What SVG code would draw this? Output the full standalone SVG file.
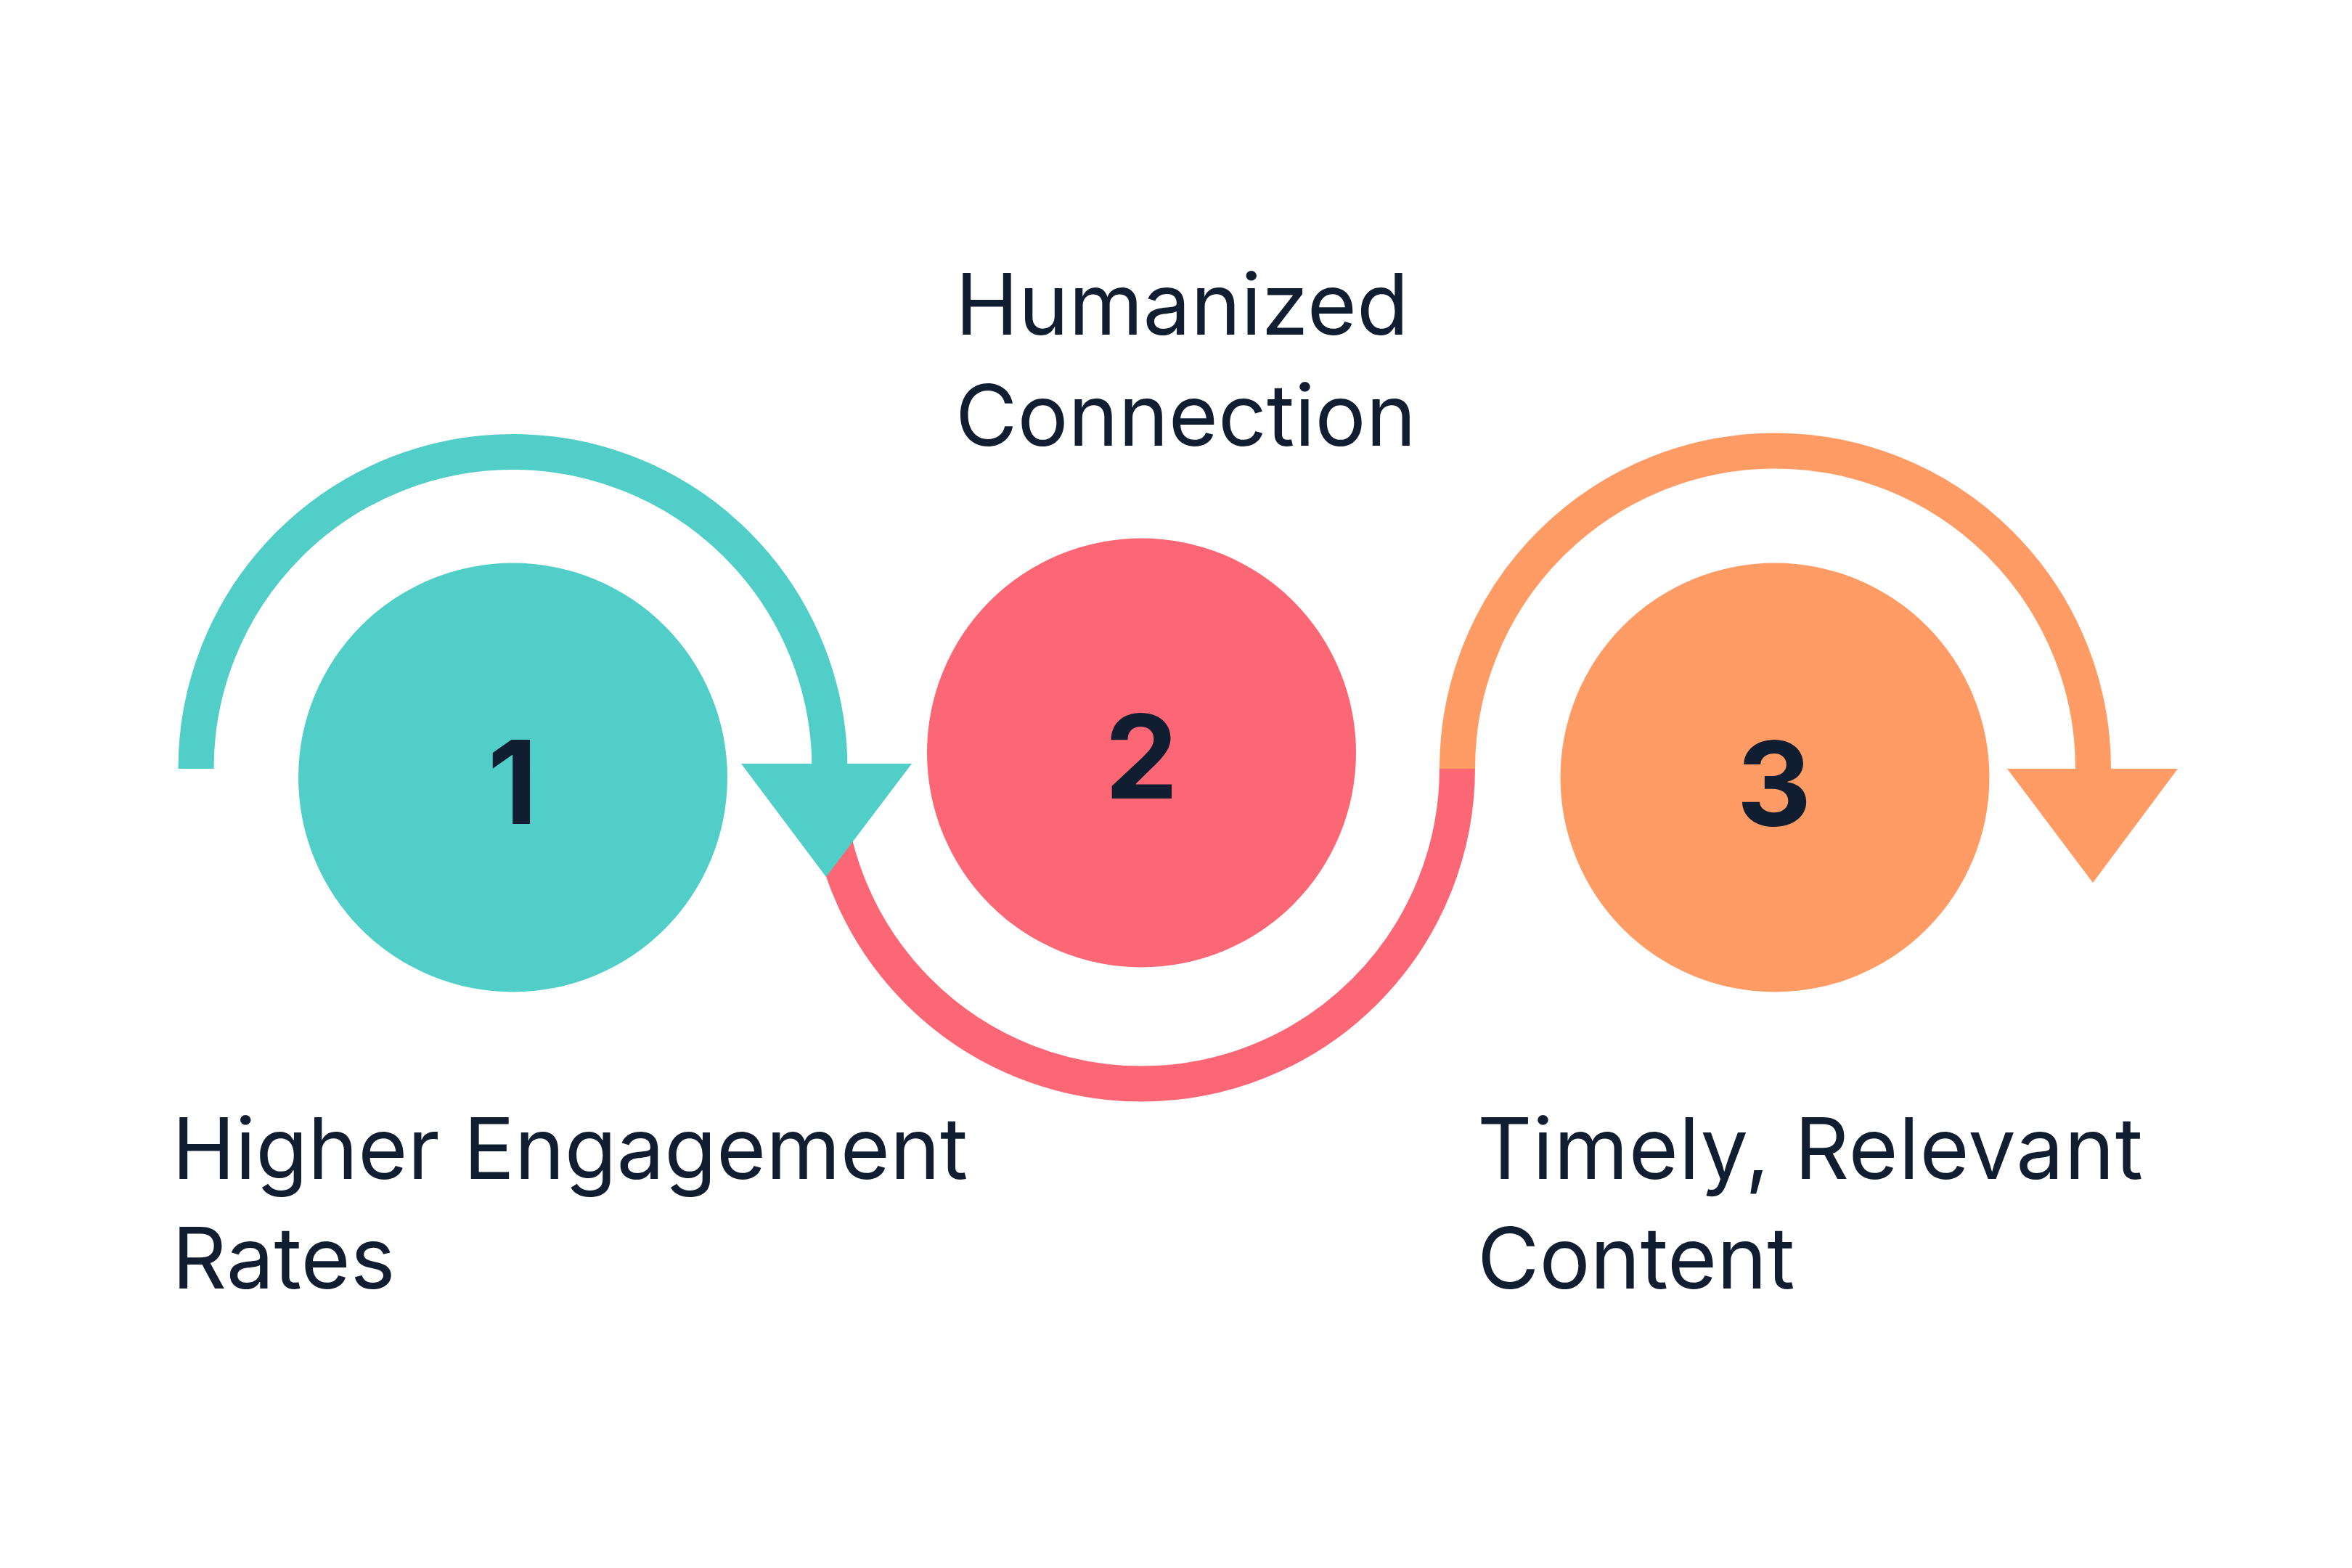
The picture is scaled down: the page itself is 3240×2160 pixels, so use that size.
<svg xmlns="http://www.w3.org/2000/svg" width="3240" height="2160" viewBox="0 0 3240 2160">
  <style>
    .label { font-family: Inter, "Liberation Sans", sans-serif; font-size: 117px; fill: #111D30; }
    .num { font-family: Inter, "Liberation Sans", sans-serif; font-size: 160px; font-weight: 700; fill: #111D30; text-anchor: middle; }
    .arc { fill: none; stroke-width: 49; stroke-linecap: butt; }
    .teal { fill: #52CEC8; }
    .pink { fill: #FC6776; }
    .orange { fill: #FF9B65; }
  </style>
  <rect width="3240" height="2160" fill="#FFFFFF"/>

  <!-- connectors: arcs around each step, with arrowheads -->
  <g id="connectors">
    <path id="arc-2" class="arc" stroke="#FC6776" d="M 1137.5 1058 A 435 435 0 0 0 2007.5 1058"/>
    <path id="arc-1" class="arc" stroke="#52CEC8" d="M 270 1059 A 436.5 436.5 0 0 1 1143 1059 L 1143 1070"/>
    <polygon class="teal" points="1021,1052 1256,1052 1138,1208"/>
    <path id="arc-3" class="arc" stroke="#FF9B65" d="M 2007.5 1059 A 438 438 0 0 1 2883.5 1059 L 2883.5 1070"/>
    <polygon class="orange" points="2765,1059 3000,1059 2883,1216"/>
  </g>

  <!-- step 1 -->
  <g id="step-1">
    <circle class="teal" cx="706.5" cy="1071" r="295.5"/>
    <text class="num" x="706" y="1135">1</text>
    <text class="label" x="237" y="1624">Higher Engagement</text>
    <text class="label" x="237" y="1775">Rates</text>
  </g>

  <!-- step 2 -->
  <g id="step-2">
    <circle class="pink" cx="1572.5" cy="1037" r="295.5"/>
    <text class="num" x="1572.5" y="1100">2</text>
    <text class="label" x="1316" y="461">Humanized</text>
    <text class="label" x="1316" y="614">Connection</text>
  </g>

  <!-- step 3 -->
  <g id="step-3">
    <circle class="orange" cx="2445" cy="1071" r="295.5"/>
    <text class="num" x="2444" y="1137">3</text>
    <text class="label" x="2035" y="1624" letter-spacing="0.8">Timely, Relevant</text>
    <text class="label" x="2035" y="1775">Content</text>
  </g>
</svg>
